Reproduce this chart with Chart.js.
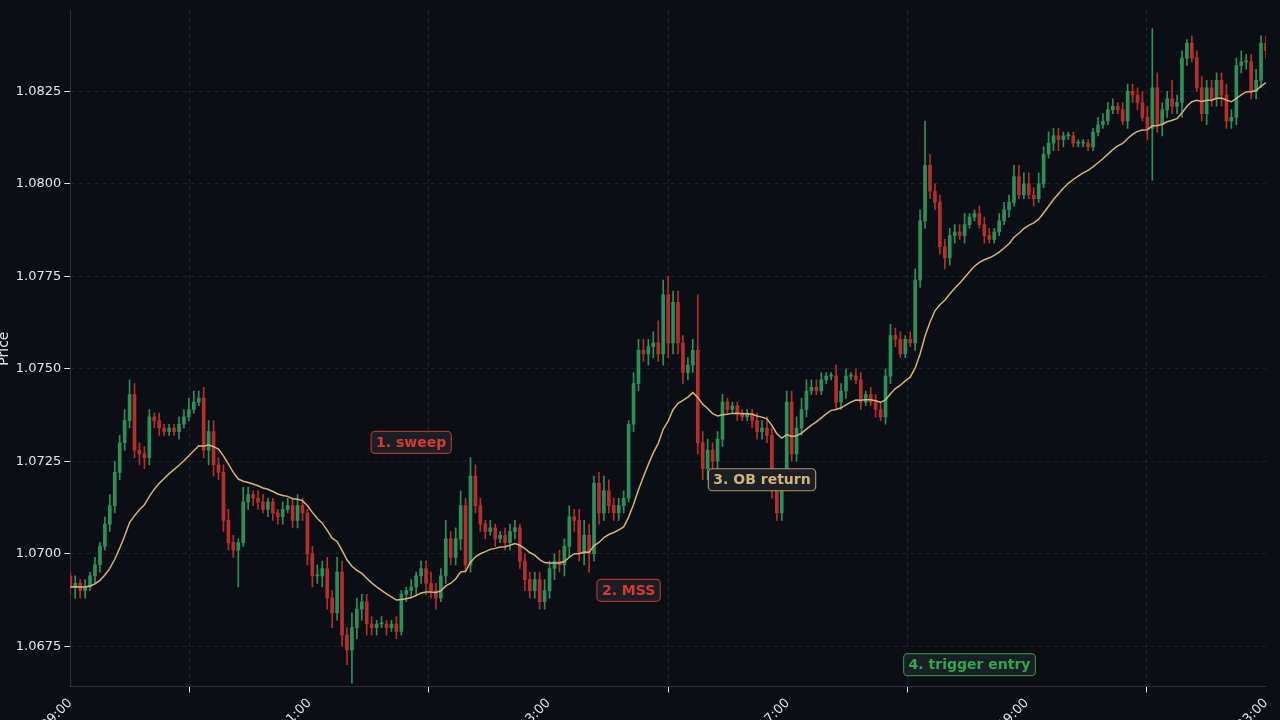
<!DOCTYPE html>
<html><head><meta charset="utf-8">
<script src="https://cdn.jsdelivr.net/npm/chart.js@4"></script>
<style>html,body{margin:0;padding:0;background:#0b0e14;overflow:hidden}#wrap{width:1280px;height:736px}</style>
</head><body><div id="wrap"><canvas id="c"></canvas></div>
<script>
const tickLabels=["09:00","11:00","13:00","17:00","19:00","23:00"];
const closes=[
1.0691,1.0692,1.0690,1.0691,1.0694,1.0697,1.0702,1.0708,1.0713,1.0722,
1.0730,1.0736,1.0743,1.0728,1.0727,1.0726,1.0737,1.0736,1.0734,1.0733,
1.0734,1.0733,1.0735,1.0737,1.0739,1.0741,1.0742,1.0728,1.0733,1.0724,
1.0722,1.0709,1.0703,1.0701,1.0703,1.0714,1.0716,1.0715,1.0714,1.0712,
1.0714,1.0711,1.0710,1.0712,1.0713,1.0709,1.0713,1.0711,1.0700,1.0694,
1.0694,1.0696,1.0688,1.0684,1.0695,1.0678,1.0674,1.0680,1.0685,1.0687,
1.0681,1.0680,1.0681,1.0681,1.0680,1.0681,1.0679,1.0689,1.0690,1.0691,
1.0694,1.0696,1.0692,1.0690,1.0688,1.0694,1.0704,1.0699,1.0704,1.0713,
1.0697,1.0721,1.0713,1.0708,1.0706,1.0707,1.0704,1.0705,1.0703,1.0706,
1.0707,1.0698,1.0693,1.0690,1.0693,1.0687,1.0690,1.0696,1.0698,1.0697,
1.0702,1.0710,1.0709,1.0700,1.0705,1.0700,1.0719,1.0711,1.0717,1.0713,
1.0711,1.0713,1.0715,1.0735,1.0746,1.0755,1.0754,1.0756,1.0757,1.0754,
1.0770,1.0757,1.0768,1.0757,1.0749,1.0751,1.0755,1.0730,1.0723,1.0728,
1.0725,1.0731,1.0741,1.0739,1.0740,1.0738,1.0737,1.0738,1.0736,1.0733,
1.0734,1.0732,1.0718,1.0711,1.0720,1.0741,1.0727,1.0734,1.0739,1.0744,
1.0745,1.0744,1.0747,1.0748,1.0748,1.0741,1.0744,1.0748,
1.0748,1.0747,1.0741,1.0743,1.0741,1.0739,1.0737,1.0748,1.0759,1.0758,
1.0754,1.0758,1.0757,1.0774,1.0790,1.0805,1.0798,1.0795,1.0783,1.0780,
1.0786,1.0787,1.0786,1.0789,1.0791,1.0792,1.0789,1.0786,1.0785,1.0787,
1.0790,1.0793,1.0795,1.0802,1.0797,1.0800,1.0797,1.0796,1.0800,1.0808,
1.0811,1.0813,1.0812,1.0813,1.0813,1.0811,1.0811,1.0811,1.0810,1.0814,
1.0816,1.0817,1.0820,1.0821,1.0820,1.0817,1.0825,1.0824,1.0822,1.0818,
1.0815,1.0826,1.0816,1.0820,1.0823,1.0821,1.0822,1.0834,1.0838,1.0834,
1.0826,1.0819,1.0826,1.0823,1.0828,1.0824,1.0817,1.0818,1.0832,1.0833,
1.0833,1.0825,1.0828,1.0838,1.0836];
const upWickPips=[
1,2,1,2,1,2,1,2,3,3, 2,3,4,3,2,2,2,1,2,1, 1,1,2,2,3,3,2,3,3,3, 2,2,3,2,1,4,2,1,2,2,
1,1,1,2,2,2,3,2,1,2, 3,2,3,2,4,3,2,4,3,2, 2,2,1,2,1,1,2,1,1,2, 1,2,2,3,2,2,5,2,3,4,
2,5,3,2,1,2,1,1,2,2, 2,1,2,2,2,2,3,2,2,3, 2,3,2,3,4,3,2,3,4,3, 2,2,2,1,3,3,3,2,3,6,
4,5,3,3,2,2,3,15,3,3, 2,2,2,1,1,1,1,1,1,2, 2,3,2,3,2,3,3,3,3,3, 2,2,2,1,1,3,2,2,
1,2,2,1,2,2,2,2,3,2, 2,1,2,3,3,12,3,2,2,2, 2,2,2,3,1,1,2,2,2,1, 2,2,2,3,3,3,3,2,3,2,
3,2,2,1,1,1,1,1,1,1, 2,2,2,2,1,2,2,2,2,3, 3,16,4,2,2,5,2,2,1,2, 2,3,2,2,2,2,3,2,2,3,
2,2,3,2,2];
const downWickPips=[
2,3,2,2,1,2,2,1,2,2, 2,2,2,2,3,3,2,2,2,1, 1,1,2,1,1,1,1,2,4,3, 2,3,2,2,10,1,2,2,2,1,
2,2,2,2,1,2,2,2,3,3, 2,3,3,4,2,3,4,9,3,3, 3,2,2,1,2,1,2,1,2,2, 2,2,3,2,3,1,2,2,2,3,
2,2,2,2,2,1,2,1,2,2, 2,2,3,2,2,2,2,2,3,2, 3,3,3,2,3,5,2,3,2,2, 2,2,2,1,2,2,2,3,3,2,
3,4,3,3,3,2,2,3,3,3, 2,2,2,1,1,2,1,1,2,2, 2,2,3,2,2,3,2,2,2,2, 1,1,1,1,1,2,2,2,
1,1,2,1,1,2,1,2,2,2, 1,1,1,2,2,2,2,2,2,3, 2,2,1,2,1,1,1,2,1,1, 1,1,2,1,1,1,1,2,1,1,
1,2,3,2,1,1,1,1,1,1, 1,1,1,1,1,1,2,2,2,1, 3,14,2,3,2,2,2,4,2,1, 1,2,3,2,2,3,2,2,2,2,
2,2,2,2,2];
const firstOpen=1.0694;
const emaPeriod=20;
const notes=[
 {text:"1. sweep",i:69,p:1.07301,color:"#d63a34"},
 {text:"2. MSS",i:113,p:1.06901,color:"#d63a34"},
 {text:"3. OB return",i:140,p:1.07200,color:"#d4b47a"},
 {text:"4. trigger entry",i:182,p:1.06700,color:"#2ea84f"}];

const N=closes.length, PIP=0.0001;
const opens=closes.map((c,i)=>i===0?firstOpen:closes[i-1]);
const bodies=[],wicks=[],bodyCol=[],ema=[];
let e=closes[0];const k=2/(emaPeriod+1);
for(let i=0;i<N;i++){
 const o=opens[i],c=closes[i];
 const hi=Math.max(o,c)+(upWickPips[i]||0)*PIP, lo=Math.min(o,c)-(downWickPips[i]||0)*PIP;
 bodies.push({x:i,y:[o,c===o?c+0.00003:c]});
 wicks.push({x:i,y:[lo,hi]});
 bodyCol.push(c>=o?"#2f8f5b":"#b3302c");
 e=i===0?c:c*k+e*(1-k); ema.push({x:i,y:e});
}
const step=(N-1)/5;
const notesPlugin={id:'notes',afterDatasetsDraw(ch){
 const ctx=ch.ctx,xs=ch.scales.x,ys=ch.scales.y;
 ctx.save();ctx.font="bold 14px 'DejaVu Sans'";ctx.textAlign='center';ctx.textBaseline='middle';
 notes.forEach(n=>{const x=xs.getPixelForValue(n.i),y=ys.getPixelForValue(n.p);
  const w=ctx.measureText(n.text).width+10,h=22;
  ctx.beginPath();ctx.roundRect(x-w/2,y-h/2,w,h,4);ctx.fillStyle="#1b1e25";ctx.fill();
  ctx.strokeStyle=n.color;ctx.lineWidth=1.2;ctx.globalAlpha=0.8;ctx.stroke();ctx.globalAlpha=1;
  ctx.fillStyle=n.color;ctx.fillText(n.text,x,y+1);});
 ctx.restore();}};
const bgPlugin={id:'bg',beforeDraw(ch){const c=ch.ctx;c.save();c.fillStyle="#0b0e14";c.fillRect(0,0,ch.width,ch.height);c.restore();}};
new Chart(document.getElementById('c'),{
 data:{datasets:[
  {type:'bar',data:wicks,backgroundColor:bodyCol,barThickness:1,grouped:false,order:3},
  {type:'bar',data:bodies,backgroundColor:bodyCol,barThickness:3,grouped:false,order:2},
  {type:'line',data:ema,borderColor:"#d4b47a",borderWidth:1.5,pointRadius:0,tension:0,order:1}]},
 options:{responsive:true,maintainAspectRatio:false,animation:false,
  layout:{padding:{left:-4,right:14,top:10,bottom:0}},
  plugins:{legend:{display:false},tooltip:{enabled:false}},
  scales:{
   x:{type:'linear',min:0,max:N-1,offset:false,
    ticks:{stepSize:step,autoSkip:false,color:"#e6e6e6",font:{size:13,family:"'DejaVu Sans'"},maxRotation:45,minRotation:45,
     callback:(v,j)=>tickLabels[j]},
    grid:{color:"rgba(255,255,255,0.10)",tickColor:"#e6e6e6",tickLength:6,drawTicks:true},
    border:{color:"rgba(255,255,255,0.15)",dash:[4,4]}},
   y:{min:1.06641,max:1.08468,
    afterBuildTicks(ax){ax.ticks=[1.0675,1.0700,1.0725,1.0750,1.0775,1.0800,1.0825].map(v=>({value:v}));},
    ticks:{color:"#e6e6e6",font:{size:13,family:"'DejaVu Sans'"},callback:v=>v.toFixed(4)},
    title:{display:true,text:"Price",color:"#e6e6e6",font:{size:14,family:"'DejaVu Sans'"},padding:0},
    grid:{color:"rgba(255,255,255,0.08)",tickColor:"#e6e6e6",tickLength:6},
    border:{color:"rgba(255,255,255,0.15)",dash:[4,4]}}}},
 plugins:[bgPlugin,notesPlugin]});
</script></body></html>
